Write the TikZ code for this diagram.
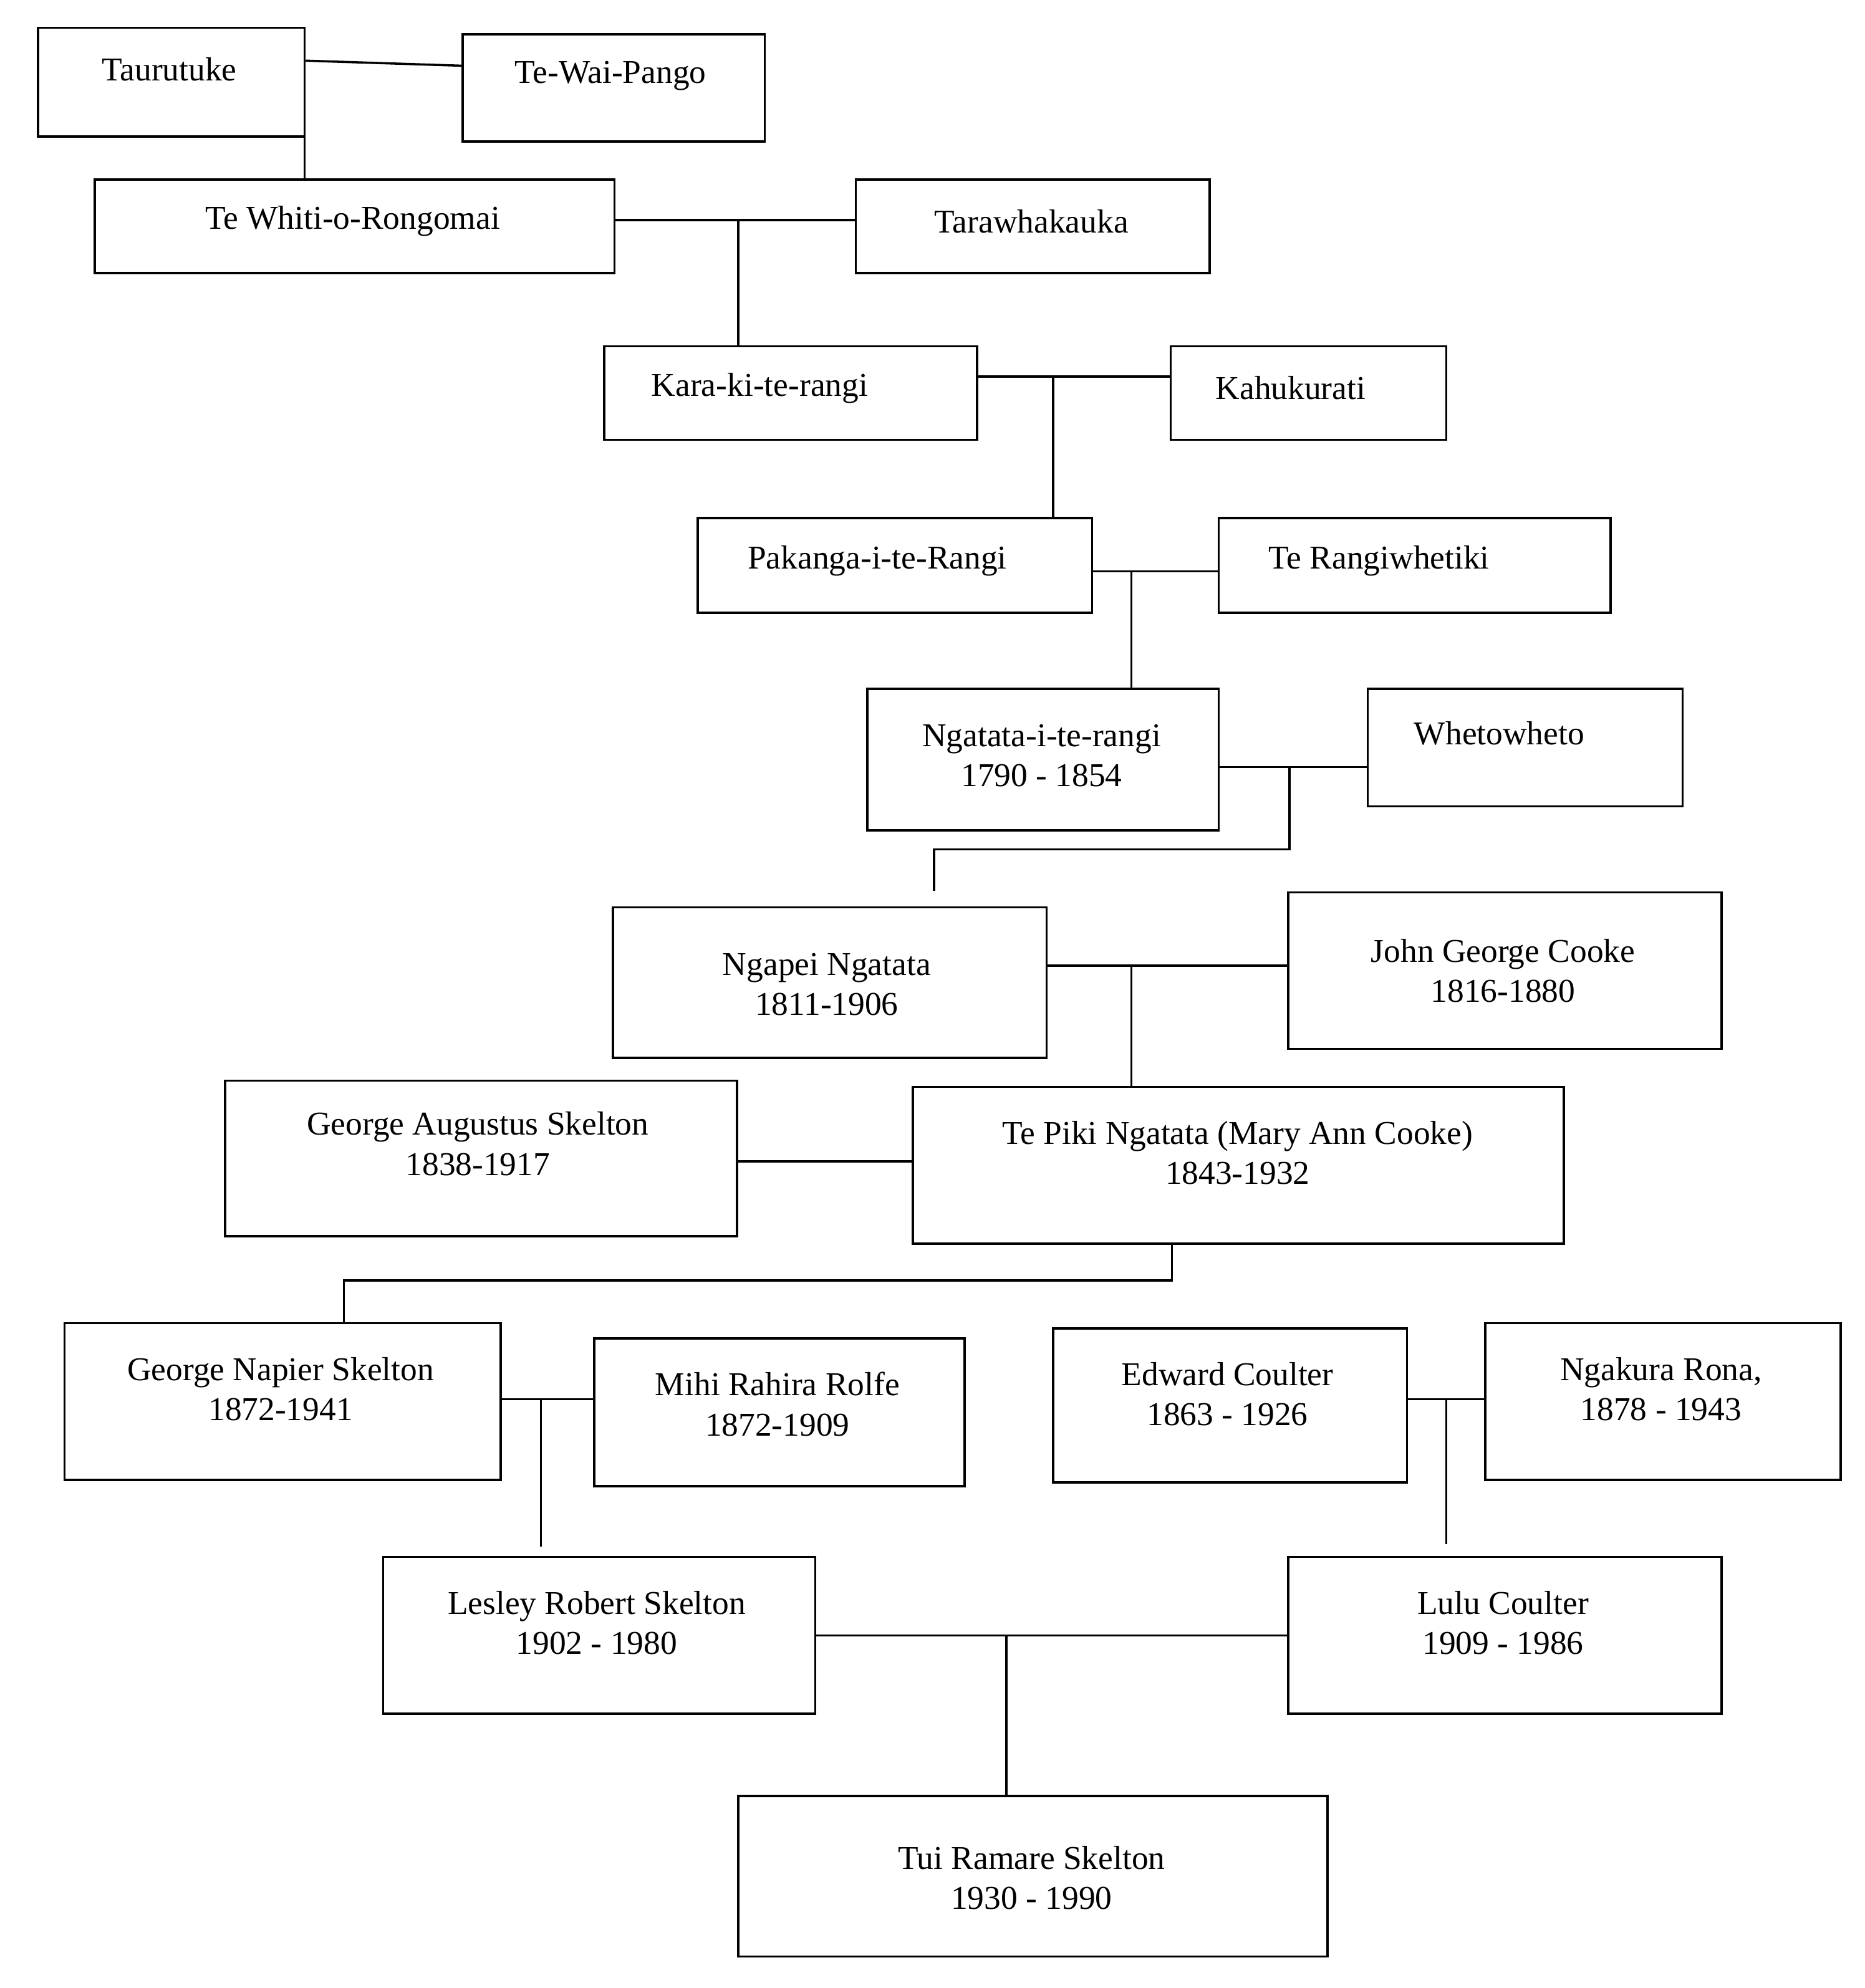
\documentclass[tikz,border=0pt]{standalone}
\usepackage{fontspec}
\setmainfont{Liberation Serif}
\begin{document}
\begin{tikzpicture}[x=0.02cm,y=-0.02cm,line width=1pt,
  bx/.style={draw,rectangle,inner sep=0pt},
  tx/.style={font=\fontsize{15}{18}\selectfont,inner sep=0pt,align=center}]
\fill[white] (0,0) rectangle (1475,1573);
\useasboundingbox (0,0) rectangle (1475,1573);
\newcommand\bx[8]{\node[bx,minimum width={(#4-#2)*0.02cm},minimum height={(#5-#3)*0.02cm}] (#1) at ({(#2+#4)/2},{(#3+#5)/2}) {};
 \node[tx] (#1t) at (#7,#8) {#6};}
\bx{tau}{30}{22}{241}{108}{Taurutuke}{134}{55}
\bx{twp}{366}{27}{605}{112}{Te-Wai-Pango}{483}{60}
\bx{twr}{75}{142}{486}{216}{Te Whiti-o-Rongomai}{279}{175}
\bx{tar}{677}{142}{957}{216}{Tarawhakauka}{816}{175}
\bx{kar}{478}{274}{773}{348}{Kara-ki-te-rangi}{601}{307}
\bx{kah}{926}{274}{1144}{348}{Kahukurati}{1021}{307}
\bx{pak}{552}{410}{864}{485}{Pakanga-i-te-Rangi}{694}{444}
\bx{ter}{964}{410}{1274}{485}{Te Rangiwhetiki}{1091}{444}
\bx{nga}{686}{545}{964}{657}{Ngatata-i-te-rangi\\1790 - 1854}{824}{598}
\bx{whe}{1082}{545}{1331}{638}{Whetowheto}{1186}{580}
\bx{ngp}{485}{718}{828}{837}{Ngapei Ngatata\\1811-1906}{654}{779}
\bx{jgc}{1019}{706}{1362}{830}{John George Cooke\\1816-1880}{1189}{768}
\bx{gas}{178}{855}{583}{978}{George Augustus Skelton\\1838-1917}{378}{905}
\bx{tpk}{722}{860}{1237}{984}{Te Piki Ngatata (Mary Ann Cooke)\\1843-1932}{979}{912}
\bx{gns}{51}{1047}{396}{1171}{George Napier Skelton\\1872-1941}{222}{1099}
\bx{mih}{470}{1059}{763}{1176}{Mihi Rahira Rolfe\\1872-1909}{615}{1111}
\bx{edw}{833}{1051}{1113}{1173}{Edward Coulter\\1863 - 1926}{971}{1103}
\bx{ngk}{1175}{1047}{1456}{1171}{Ngakura Rona,\\1878 - 1943}{1314}{1099}
\bx{les}{303}{1232}{645}{1356}{Lesley Robert Skelton\\1902 - 1980}{472}{1284}
\bx{lul}{1019}{1232}{1362}{1356}{Lulu Coulter\\1909 - 1986}{1189}{1284}
\bx{tui}{584}{1421}{1050}{1548}{Tui Ramare Skelton\\1930 - 1990}{816}{1486}
\draw (tau.east|-0,48) -- (twp.west|-0,52);
\draw (241,0|-tau.south) -- (241,0|-twr.north);
\draw (twr.east|-0,174) -- (tar.west|-0,174);
\draw (584,174) -- (584,0|-kar.north);
\draw (kar.east|-0,298) -- (kah.west|-0,298);
\draw (833,298) -- (833,0|-pak.north);
\draw (pak.east|-0,452) -- (ter.west|-0,452);
\draw (895,452) -- (895,0|-nga.north);
\draw (nga.east|-0,607) -- (whe.west|-0,607);
\draw (1020,607) -- (1020,672) -- (739,672) -- (739,705);
\draw (ngp.east|-0,764) -- (jgc.west|-0,764);
\draw (895,764) -- (895,0|-tpk.north);
\draw (gas.east|-0,919) -- (tpk.west|-0,919);
\draw (927,0|-tpk.south) -- (927,1013) -- (272,1013) -- (272,0|-gns.north);
\draw (gns.east|-0,1107) -- (mih.west|-0,1107);
\draw (428,1107) -- (428,1224);
\draw (edw.east|-0,1107) -- (ngk.west|-0,1107);
\draw (1144,1107) -- (1144,1222);
\draw (les.east|-0,1294) -- (lul.west|-0,1294);
\draw (796,1294) -- (796,0|-tui.north);
\end{tikzpicture}
\end{document}
